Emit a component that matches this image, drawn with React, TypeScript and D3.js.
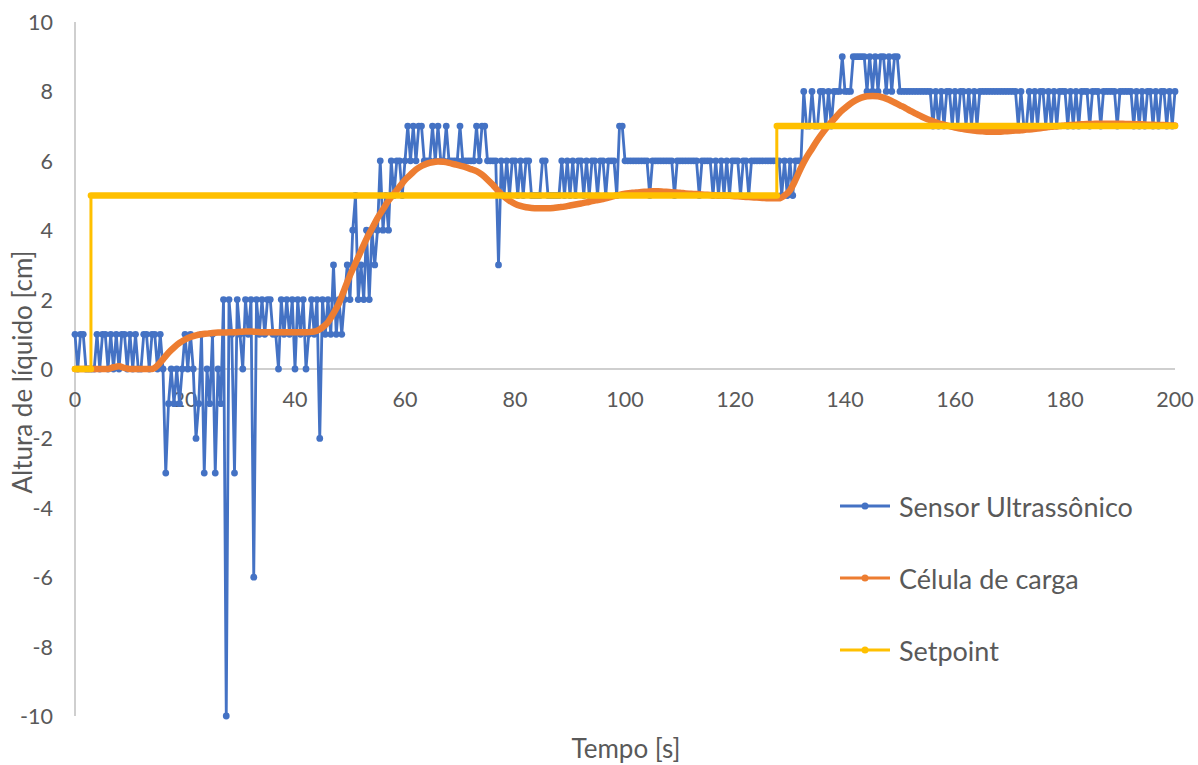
import React from "react";
import * as d3 from "d3";

// ---- data ----
const sensorStep = 0.5; // seconds between ultrasonic samples
const sensorValues: number[] = [
  1, 0, 1, 1, 0, 0, 0, 0, 1, 0, 1, 1, 0, 1, 0, 1, 0, 1, 1, 0,
  1, 0, 1, 0, 0, 1, 1, 0, 1, 1, 0, 1, 0, -3, -1, 0, -1, 0, -1, 0,
  1, 0, 1, 0, -2, -1, 1, -3, 0, -1, 1, -3, 0, -1, 2, -10, 2, 1, -3, 2,
  1, 0, 2, 1, 2, -6, 2, 1, 2, 1, 2, 2, 1, 1, 0, 2, 1, 2, 1, 2,
  0, 2, 1, 2, 0, 1, 2, 1, 2, -2, 2, 1, 2, 1, 3, 1, 2, 1, 2, 3,
  2, 4, 5, 2, 3, 2, 4, 2, 4, 3, 4, 6, 4, 5, 4, 6, 5, 6, 6, 5,
  6, 7, 6, 7, 6, 7, 7, 6, 6, 6, 7, 6, 7, 6, 6, 7, 6, 6, 6, 6,
  7, 6, 6, 6, 6, 6, 7, 6, 7, 7, 6, 6, 6, 6, 3, 6, 5, 6, 5, 6,
  6, 5, 6, 5, 6, 6, 5, 5, 5, 5, 6, 6, 5, 5, 5, 5, 5, 6, 5, 6,
  5, 6, 5, 6, 6, 5, 6, 5, 6, 6, 5, 6, 6, 5, 6, 6, 6, 5, 7, 7,
  6, 6, 6, 6, 6, 6, 6, 6, 6, 5, 6, 6, 6, 6, 6, 6, 6, 6, 5, 6,
  6, 6, 6, 6, 6, 6, 6, 5, 6, 6, 6, 6, 5, 6, 5, 6, 5, 6, 5, 6,
  6, 6, 5, 6, 6, 5, 6, 6, 6, 6, 6, 6, 6, 6, 6, 6, 6, 5, 6, 5,
  6, 5, 6, 6, 6, 8, 7, 7, 8, 7, 7, 8, 8, 7, 8, 7, 8, 8, 8, 9,
  8, 8, 8, 9, 9, 9, 9, 9, 8, 9, 8, 9, 8, 9, 9, 8, 9, 8, 9, 9,
  8, 8, 8, 8, 8, 8, 8, 8, 8, 8, 8, 8, 7, 8, 7, 8, 7, 8, 8, 7,
  8, 7, 8, 8, 7, 8, 7, 8, 7, 8, 8, 8, 8, 8, 8, 8, 8, 8, 8, 8,
  8, 8, 8, 7, 8, 7, 7, 8, 7, 8, 7, 8, 8, 7, 8, 7, 8, 7, 8, 8,
  8, 7, 8, 7, 8, 7, 8, 8, 8, 7, 8, 8, 8, 7, 8, 8, 8, 8, 8, 7,
  8, 8, 8, 8, 8, 7, 8, 7, 8, 7, 8, 8, 7, 8, 7, 8, 8, 7, 8, 7, 8,
];

const loadCellStep = 1; // seconds between load-cell samples
const loadCellValues: number[] = [
  0, 0, 0, 0, 0, 0, 0, 0.05, 0.08, 0.03,
  0, 0, 0, 0, 0, 0.1, 0.28, 0.47, 0.62, 0.75,
  0.85, 0.92, 0.97, 1.0, 1.02, 1.04, 1.05, 1.05, 1.06, 1.06,
  1.07, 1.08, 1.08, 1.07, 1.06, 1.06, 1.06, 1.06, 1.06, 1.06,
  1.06, 1.06, 1.06, 1.07, 1.1, 1.2, 1.35, 1.6, 1.9, 2.3,
  2.7, 3.05, 3.4, 3.75, 4.05, 4.35, 4.6, 4.85, 5.05, 5.25,
  5.45, 5.6, 5.75, 5.85, 5.92, 5.96, 5.98, 5.97, 5.94, 5.9,
  5.86, 5.82, 5.76, 5.7, 5.6, 5.46, 5.3, 5.12, 4.97, 4.85,
  4.76, 4.7, 4.66, 4.64, 4.63, 4.63, 4.63, 4.64, 4.66, 4.68,
  4.71, 4.74, 4.77, 4.8, 4.84, 4.87, 4.9, 4.94, 4.98, 5.02,
  5.05, 5.07, 5.09, 5.1, 5.11, 5.12, 5.12, 5.11, 5.1, 5.09,
  5.08, 5.06, 5.05, 5.04, 5.03, 5.02, 5.01, 5.0, 5.0, 4.99,
  4.98, 4.97, 4.96, 4.95, 4.94, 4.93, 4.92, 4.92, 4.92, 5.0,
  5.15, 5.45, 5.8, 6.1, 6.35, 6.6, 6.82, 7.02, 7.2, 7.38,
  7.52, 7.65, 7.75, 7.82, 7.86, 7.87, 7.86, 7.82, 7.76, 7.68,
  7.6, 7.52, 7.43, 7.35, 7.27, 7.2, 7.14, 7.08, 7.04, 7.0,
  6.96, 6.93, 6.9, 6.88, 6.86, 6.85, 6.84, 6.84, 6.84, 6.85,
  6.86, 6.87, 6.88, 6.9, 6.91, 6.93, 6.95, 6.97, 6.99, 7.0,
  7.02, 7.03, 7.04, 7.05, 7.06, 7.06, 7.07, 7.07, 7.07, 7.07,
  7.07, 7.06, 7.06, 7.05, 7.05, 7.04, 7.04, 7.03, 7.03, 7.02,
  7.02,
];

const setpointTimes = [0, 2.9, 2.9, 127.6, 127.6, 200];
const setpointValues = [0, 0, 5, 5, 7, 7];

const xTicks = [0, 20, 40, 60, 80, 100, 120, 140, 160, 180, 200];
const yTicks = [-10, -8, -6, -4, -2, 0, 2, 4, 6, 8, 10];

const seriesNames = ["Sensor Ultrassônico", "Célula de carga", "Setpoint"];
const seriesColors = ["#4472C4", "#ED7D31", "#FFC000"];

const xTitle = "Tempo [s]";
const yTitle = "Altura de líquido [cm]";

type Pt = [number, number];

export default function App() {
  const W = 1198;
  const H = 765;
  const font = "Lato, 'Open Sans', sans-serif";
  const x = d3.scaleLinear().domain([0, 200]).range([75, 1175]);
  const y = d3.scaleLinear().domain([-10, 10]).range([716, 22]);

  const sensorPts: Pt[] = sensorValues.map((v, i) => [i * sensorStep, v]);
  const loadPts: Pt[] = loadCellValues.map((v, i) => [i * loadCellStep, v]);
  const spPts: Pt[] = setpointTimes.map((t, i) => [t, setpointValues[i]]);

  const line = d3
    .line<Pt>()
    .x((d) => x(d[0]))
    .y((d) => y(d[1]));
  const smooth = d3
    .line<Pt>()
    .x((d) => x(d[0]))
    .y((d) => y(d[1]))
    .curve(d3.curveMonotoneX);

  // horizontal parts of the setpoint (dense markers in the original make these thick)
  const spFlat: Pt[][] = [];
  for (let i = 0; i < spPts.length - 1; i++) {
    if (spPts[i][1] === spPts[i + 1][1]) spFlat.push([spPts[i], spPts[i + 1]]);
  }

  const legendY = [506, 578, 650];

  return (
    <svg width={W} height={H} style={{ display: "block", position: "absolute", left: 0, top: 0 }}>
      <rect x={0} y={0} width={W} height={H} fill="#ffffff" />
      {/* axes */}
      <line x1={x(0)} x2={x(0)} y1={y(10)} y2={y(-10)} stroke="#BFBFBF" strokeWidth={1.5} />
      <line x1={x(0)} x2={x(200)} y1={y(0)} y2={y(0)} stroke="#BFBFBF" strokeWidth={1.5} />

      {yTicks.map((t) => (
        <text key={"y" + t} x={53} y={y(t)} textAnchor="end" dominantBaseline="central"
          fontFamily={font} fontSize={21.5} fill="#595959">{t}</text>
      ))}
      {xTicks.map((t) => (
        <text key={"x" + t} x={x(t)} y={399} textAnchor="middle" dominantBaseline="central"
          fontFamily={font} fontSize={21.5} fill="#595959">{t}</text>
      ))}

      {/* sensor */}
      <path d={line(sensorPts) || ""} fill="none" stroke={seriesColors[0]} strokeWidth={2.8} strokeLinejoin="round" />
      {sensorPts.map((p, i) => (
        <circle key={"s" + i} cx={x(p[0])} cy={y(p[1])} r={3.4} fill={seriesColors[0]} />
      ))}

      {/* load cell */}
      <path d={smooth(loadPts) || ""} fill="none" stroke={seriesColors[1]} strokeWidth={6.5} strokeLinejoin="round" strokeLinecap="round" />

      {/* setpoint */}
      <path d={line(spPts) || ""} fill="none" stroke={seriesColors[2]} strokeWidth={3} />
      {spFlat.map((seg, i) => (
        <path key={"f" + i} d={line(seg) || ""} fill="none" stroke={seriesColors[2]} strokeWidth={6.5} strokeLinecap="round" />
      ))}

      {/* titles */}
      <text x={626} y={748} textAnchor="middle" dominantBaseline="central" fontFamily={font} fontSize={26} fill="#595959">{xTitle}</text>
      <text transform={`translate(22,372) rotate(-90)`} textAnchor="middle" dominantBaseline="central"
        fontFamily={font} fontSize={26} fill="#595959">{yTitle}</text>

      {/* legend */}
      {seriesNames.map((n, i) => (
        <g key={"l" + i}>
          <line x1={840} x2={890} y1={legendY[i]} y2={legendY[i]} stroke={seriesColors[i]} strokeWidth={3} />
          <circle cx={865} cy={legendY[i]} r={3.5} fill={seriesColors[i]} />
          <text x={899} y={legendY[i]} dominantBaseline="central" fontFamily={font} fontSize={27} fill="#595959">{n}</text>
        </g>
      ))}
    </svg>
  );
}
